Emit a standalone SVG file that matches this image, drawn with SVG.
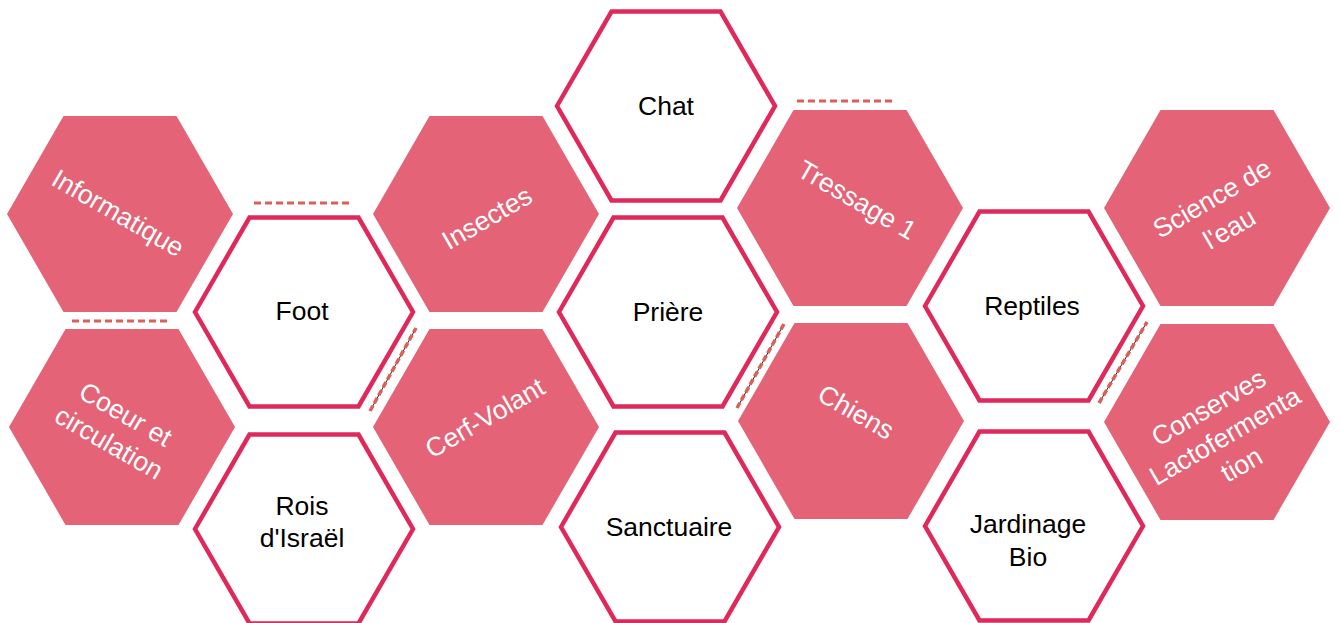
<svg xmlns="http://www.w3.org/2000/svg" xmlns:xlink="http://www.w3.org/1999/xlink" width="1340" height="623" viewBox="0 0 1340 623">
<style>
.f{fill:#e46376}
.o{fill:#fff;stroke:#e0295b;stroke-width:4.5;stroke-linejoin:miter}
.t{font-family:"Liberation Sans",Arial,sans-serif;font-size:26.5px;text-anchor:middle}
.w{fill:#fff}
.k{fill:#000}
.hd{stroke:#dc5f58;stroke-width:3;stroke-dasharray:7 4;fill:none}
.dl{stroke:#222;stroke-width:1;fill:none}
.dd{stroke:#dc5f58;stroke-width:3.5;stroke-dasharray:6 3;fill:none}
</style>
<defs>
<polygon id="hf" points="-113,0 -56.5,-98 56.5,-98 113,0 56.5,98 -56.5,98"/>
<polygon id="ho" points="-109,0 -54.5,-94.4 54.5,-94.4 109,0 54.5,94.4 -54.5,94.4"/>
</defs>
<rect width="1340" height="623" fill="#fff"/>
<g id="connectors">
<line class="hd" x1="254" y1="203" x2="351" y2="203"/>
<line class="hd" x1="72" y1="321" x2="169" y2="321"/>
<line class="hd" x1="797" y1="101" x2="894" y2="101"/>
<line class="dl" x1="370" y1="411" x2="416" y2="328"/>
<line class="dd" x1="370" y1="411" x2="416" y2="328"/>
<line class="dl" x1="737" y1="408" x2="784" y2="324"/>
<line class="dd" x1="737" y1="408" x2="784" y2="324"/>
<line class="dl" x1="1099" y1="403" x2="1147" y2="322"/>
<line class="dd" x1="1099" y1="403" x2="1147" y2="322"/>
</g>
<g id="informatique"><use href="#hf" class="f" transform="translate(120,214)"/><text class="t w" transform="translate(118,213) rotate(30)"><tspan x="0" y="9">Informatique</tspan></text></g>
<g id="coeur"><use href="#hf" class="f" transform="translate(122,427)"/><text class="t w" transform="translate(117,429) rotate(30)"><tspan x="0" y="-8">Coeur et</tspan><tspan x="0" y="25">circulation</tspan></text></g>
<g id="insectes"><use href="#hf" class="f" transform="translate(486,214)"/><text class="t w" transform="translate(487,218) rotate(-30)"><tspan x="0" y="9">Insectes</tspan></text></g>
<g id="cerf-volant"><use href="#hf" class="f" transform="translate(486,427)"/><text class="t w" transform="translate(485,418) rotate(-30)"><tspan x="0" y="9">Cerf-Volant</tspan></text></g>
<g id="tressage"><use href="#hf" class="f" transform="translate(850,208)"/><text class="t w" transform="translate(857,200) rotate(30)"><tspan x="0" y="9">Tressage 1</tspan></text></g>
<g id="chiens"><use href="#hf" class="f" transform="translate(851,421)"/><text class="t w" transform="translate(856,412) rotate(30)"><tspan x="0" y="9">Chiens</tspan></text></g>
<g id="science"><use href="#hf" class="f" transform="translate(1217,208)"/><text class="t w" transform="translate(1221,214) rotate(-30)"><tspan x="0" y="-9">Science de</tspan><tspan x="0" y="26">l'eau</tspan></text></g>
<g id="conserves"><use href="#hf" class="f" transform="translate(1217,422)"/><text class="t w" transform="translate(1225,436) rotate(-30)"><tspan x="0" y="-24">Conserves</tspan><tspan x="0" y="9">Lactofermenta</tspan><tspan x="0" y="42">tion</tspan></text></g>
<g id="foot"><use href="#ho" class="o" transform="translate(304,312)"/><text class="t k" x="302" y="320">Foot</text></g>
<g id="rois"><use href="#ho" class="o" transform="translate(304,529)"/><text class="t k"><tspan x="302" y="515">Rois</tspan><tspan x="302" y="547">d'Israël</tspan></text></g>
<g id="chat"><use href="#ho" class="o" transform="translate(666,106)"/><text class="t k" x="666" y="115">Chat</text></g>
<g id="priere"><use href="#ho" class="o" transform="translate(668,312)"/><text class="t k" x="668" y="321">Prière</text></g>
<g id="sanctuaire"><use href="#ho" class="o" transform="translate(670,527)"/><text class="t k" x="669" y="536">Sanctuaire</text></g>
<g id="reptiles"><use href="#ho" class="o" transform="translate(1034,306)"/><text class="t k" x="1032" y="315">Reptiles</text></g>
<g id="jardinage"><use href="#ho" class="o" transform="translate(1034,526)"/><text class="t k"><tspan x="1028" y="533">Jardinage</tspan><tspan x="1028" y="566">Bio</tspan></text></g>
</svg>
